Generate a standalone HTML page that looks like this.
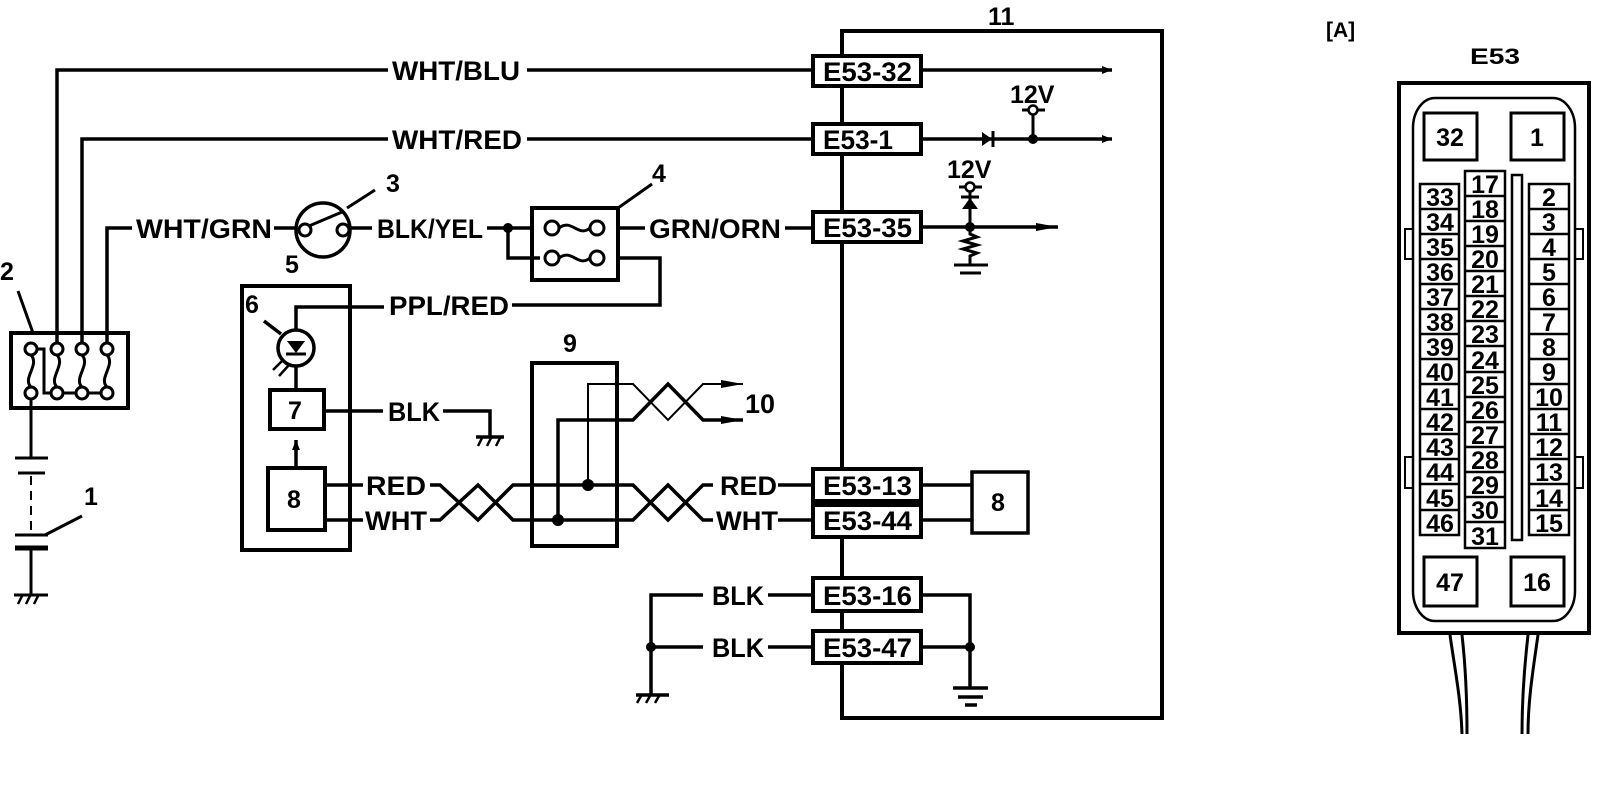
<!DOCTYPE html>
<html><head><meta charset="utf-8"><style>
html,body{margin:0;padding:0;background:#fff;}
svg{display:block;}
text{font-family:"Liberation Sans",Arial,sans-serif;fill:#000;font-weight:bold;}
</style></head><body>
<svg width="1600" height="792" viewBox="0 0 1600 792" xmlns="http://www.w3.org/2000/svg">
<defs>
<marker id="ah" markerWidth="10" markerHeight="8" refX="10" refY="4" orient="auto" markerUnits="userSpaceOnUse"><path d="M0,0 L10,4 L0,8 Z" fill="#000"/></marker>
<marker id="ah2" markerWidth="22" markerHeight="10" refX="22" refY="5" orient="auto" markerUnits="userSpaceOnUse"><path d="M0,1 L22,5 L0,9 Z" fill="#000"/></marker>
</defs>
<g stroke="#000" stroke-width="3.5" fill="none">
<path d="M842,31 H1162 V718 H842 Z" stroke-width="4"/>
<path d="M57,349 V70 H388"/><path d="M527,70 H813"/>
<path d="M923,70 H1112" marker-end="url(#ah)"/>
<path d="M82,349 V139 H388"/><path d="M527,139 H813"/>
<path d="M923,139 H1112" marker-end="url(#ah)"/>
<path d="M107,349 V228 H132"/><path d="M274,228 H296"/>
<circle cx="323" cy="230" r="27"/>
<path d="M350,228 H372"/>
<path d="M487,228 H532"/>
<path d="M508,228 V258 H540"/>
<rect x="532" y="208" width="86" height="72" stroke-width="4"/>
<path d="M618,228 H645"/><path d="M785,228 H813"/>
<path d="M923,227 H1058" marker-end="url(#ah2)"/>
<path d="M618,258 H660 V305 H512"/>
<path d="M384,307 H296 V330"/>
</g>
<g stroke="#000" stroke-width="3" fill="#fff">
<circle cx="305" cy="230" r="6"/><circle cx="343" cy="230" r="6"/>
<circle cx="552" cy="228" r="7"/><circle cx="597" cy="228" r="7"/>
<circle cx="552" cy="258" r="7"/><circle cx="597" cy="258" r="7"/>
</g>
<g stroke="#000" stroke-width="3" fill="none">
<path d="M309,226 L342,212"/>
<path d="M559,228 C572,218 578,238 590,228"/>
<path d="M559,258 C572,248 578,268 590,258"/>
<path d="M347,208 L375,190"/><path d="M618,208 L652,184"/>
</g>
<circle cx="508" cy="228" r="5" fill="#000"/>

<path d="M982,132 L992,139 L982,146 Z" fill="#000"/>
<path d="M993,131 V147" stroke="#000" stroke-width="3"/>
<path d="M1033,139 V113" stroke="#000" stroke-width="3"/>
<path d="M1022,110 H1045" stroke="#000" stroke-width="3"/>
<circle cx="1033" cy="110" r="4.5" fill="#fff" stroke="#000" stroke-width="2.5"/>
<circle cx="1033" cy="139" r="5" fill="#000"/>
<path d="M970,227 V190 M959,187 H982" stroke="#000" stroke-width="3"/>
<circle cx="970" cy="187" r="4.5" fill="#fff" stroke="#000" stroke-width="2.5"/>
<path d="M962,209 L970,198 L978,209 Z" fill="#000"/>
<path d="M961,197 H979" stroke="#000" stroke-width="3"/>
<circle cx="970" cy="227" r="5" fill="#000"/>
<path d="M970,227 V234 L977,237 L963,241 L977,245 L963,249 L977,253 L970,256 V265 M954,265 H988 M960,273 H981" stroke="#000" stroke-width="3" fill="none"/>

<g stroke="#000" stroke-width="3" fill="none">
<rect x="11" y="333" width="117" height="75" stroke-width="4"/>
<path d="M18,291 L33,333"/>
<path d="M37,349 H44 V393 H101"/>
<path d="M31,355 C40,365 22,378 31,387"/>
<path d="M57,355 C66,365 48,378 57,387"/>
<path d="M82,355 C91,365 73,378 82,387"/>
<path d="M107,355 C116,365 98,378 107,387"/>
<path d="M31,399 V458 M15,458 H48 M18,473 H45"/>
<path d="M31,476 V532" stroke-dasharray="9,6" stroke-width="2"/>
<path d="M15,535 H48"/><path d="M15,548 H48" stroke-width="5"/>
<path d="M31,550 V595 M14,595 H48"/>
<path d="M45,535 L82,516"/>
<path d="M18,604 L22,596 M26,604 L30,596 M34,604 L38,596" stroke-width="2.5"/>
</g>
<g fill="#fff" stroke="#000" stroke-width="3">
<circle cx="31" cy="349" r="6"/><circle cx="57" cy="349" r="6"/><circle cx="82" cy="349" r="6"/><circle cx="107" cy="349" r="6"/>
<circle cx="31" cy="393" r="6"/><circle cx="57" cy="393" r="6"/><circle cx="82" cy="393" r="6"/><circle cx="107" cy="393" r="6"/>
</g>

<g stroke="#000" stroke-width="3.5" fill="none">
<rect x="242" y="286" width="108" height="264" stroke-width="4"/>
<circle cx="296" cy="348" r="18"/>
<path d="M296,366 V390"/>
<rect x="270" y="390" width="54" height="39" stroke-width="4"/>
<rect x="268" y="468" width="57" height="62" stroke-width="4"/>
<path d="M296,468 V440" marker-end="url(#ah)"/>
<path d="M264,321 L281,334"/>
<path d="M283,360 L273,370 M289,365 L279,376" stroke-width="2.5"/>
<path d="M324,411 H383"/><path d="M443,411 H490 V437 M476,437 H504"/>
<path d="M478,446 L482,438 M487,446 L491,438 M496,446 L500,438" stroke-width="2.5"/>
<path d="M325,485 H363 M325,520 H363"/>
<path d="M430,485 H440 L478,520 L513,485 H633 L668,520 L703,485 H713"/>
<path d="M430,520 H440 L478,485 L513,520 H633 L668,485 L703,520 H713"/>
<path d="M778,485 H813 M778,520 H813"/>
<rect x="532" y="363" width="85" height="183" stroke-width="4"/>
<path d="M588,485 V384 H633 L668,420 L703,384 H743" marker-end="url(#ah2)" stroke-width="2"/>
<path d="M558,520 V420 H633 L668,384 L703,420 H743" marker-end="url(#ah2)"/>
<path d="M923,485 H972 M923,520 H972"/>
<rect x="972" y="472" width="56" height="61"/>
<path d="M651,695 V595 H703 M651,647 H703 M768,595 H813 M768,647 H813"/>
<path d="M923,595 H970 V688 M923,647 H970"/>
<path d="M953,688 H988 M958,697 H983 M965,705 H977"/>
<path d="M636,695 H669"/>
<path d="M637,703 L641,696 M646,703 L650,696 M655,703 L659,696" stroke-width="2.5"/>
</g>
<path d="M287,341 L305,341 L296,353 Z" fill="#000"/>
<path d="M286,354 H306" stroke="#000" stroke-width="3"/>
<circle cx="588" cy="485" r="6" fill="#000"/>
<circle cx="558" cy="520" r="6" fill="#000"/>
<circle cx="651" cy="647" r="5" fill="#000"/>
<circle cx="970" cy="647" r="5" fill="#000"/>

<g fill="#fff" stroke="#000" stroke-width="4">
<rect x="813" y="56" width="108" height="30"/>
<rect x="813" y="124" width="108" height="30"/>
<rect x="813" y="212" width="108" height="30"/>
<rect x="813" y="469" width="108" height="32"/>
<rect x="813" y="505" width="108" height="32"/>
<rect x="813" y="578" width="108" height="33"/>
<rect x="813" y="631" width="108" height="32"/>
</g>
<g font-size="27">
<text x="823" y="81" textLength="89" lengthAdjust="spacingAndGlyphs">E53-32</text>
<text x="823" y="149" textLength="70" lengthAdjust="spacingAndGlyphs">E53-1</text>
<text x="823" y="237" textLength="89" lengthAdjust="spacingAndGlyphs">E53-35</text>
<text x="823" y="495" textLength="89" lengthAdjust="spacingAndGlyphs">E53-13</text>
<text x="823" y="530" textLength="89" lengthAdjust="spacingAndGlyphs">E53-44</text>
<text x="823" y="605" textLength="89" lengthAdjust="spacingAndGlyphs">E53-16</text>
<text x="823" y="657" textLength="89" lengthAdjust="spacingAndGlyphs">E53-47</text>

<text x="392" y="80" textLength="128" lengthAdjust="spacingAndGlyphs">WHT/BLU</text>
<text x="392" y="149" textLength="130" lengthAdjust="spacingAndGlyphs">WHT/RED</text>
<text x="136" y="238" textLength="136" lengthAdjust="spacingAndGlyphs">WHT/GRN</text>
<text x="377" y="238" textLength="106" lengthAdjust="spacingAndGlyphs">BLK/YEL</text>
<text x="649" y="238" textLength="132" lengthAdjust="spacingAndGlyphs">GRN/ORN</text>
<text x="389" y="315" textLength="120" lengthAdjust="spacingAndGlyphs">PPL/RED</text>
<text x="388" y="421" textLength="52" lengthAdjust="spacingAndGlyphs">BLK</text>
<text x="366" y="495" textLength="60" lengthAdjust="spacingAndGlyphs">RED</text>
<text x="365" y="530" textLength="62" lengthAdjust="spacingAndGlyphs">WHT</text>
<text x="720" y="495" textLength="57" lengthAdjust="spacingAndGlyphs">RED</text>
<text x="716" y="530" textLength="62" lengthAdjust="spacingAndGlyphs">WHT</text>
<text x="712" y="605" textLength="52" lengthAdjust="spacingAndGlyphs">BLK</text>
<text x="712" y="657" textLength="52" lengthAdjust="spacingAndGlyphs">BLK</text>
<text x="745" y="413">10</text>
<text x="1010" y="103" font-size="25">12V</text>
<text x="947" y="178" font-size="25">12V</text>
<text x="988" y="25" font-size="25">11</text>
<text x="386" y="192" font-size="25">3</text>
<text x="652" y="182" font-size="25">4</text>
<text x="285" y="273" font-size="25">5</text>
<text x="245" y="313" font-size="25">6</text>
<text x="288" y="419" font-size="25">7</text>
<text x="287" y="508" font-size="25">8</text>
<text x="991" y="511" font-size="25">8</text>
<text x="563" y="352" font-size="25">9</text>
<text x="0" y="280" font-size="25">2</text>
<text x="84" y="505" font-size="25">1</text>
</g>

<text x="1326" y="37" font-size="21">[A]</text>
<text x="1470" y="64" font-size="22" textLength="50" lengthAdjust="spacingAndGlyphs">E53</text>
<g stroke="#000" fill="none" stroke-width="3">
<rect x="1399" y="83" width="190" height="550" stroke-width="4"/>
<rect x="1413" y="98" width="162" height="523" rx="22" ry="30" stroke-width="2.5"/>
<rect x="1405" y="229" width="8" height="30" stroke-width="2"/>
<rect x="1405" y="457" width="8" height="31" stroke-width="2"/>
<rect x="1575" y="229" width="8" height="30" stroke-width="2"/>
<rect x="1575" y="457" width="8" height="31" stroke-width="2"/>
<rect x="1424" y="113" width="53" height="47"/>
<rect x="1511" y="113" width="53" height="47"/>
<rect x="1424" y="557" width="53" height="49"/>
<rect x="1511" y="557" width="53" height="49"/>
<rect x="1512" y="175" width="10" height="365" stroke-width="2.5"/>
<path d="M1450,635 C1455,670 1461,700 1462,734 M1462,635 C1466,670 1467,700 1467,734"/>
<path d="M1538,635 C1533,670 1528,700 1528,734 M1528,635 C1524,670 1522,700 1522,734"/>
</g>
<g font-size="25" text-anchor="middle">
<text x="1450" y="146">32</text><text x="1537" y="146">1</text>
<text x="1450" y="591">47</text><text x="1537" y="591">16</text>
</g>
<g font-size="25" text-anchor="middle">
<g stroke="#000" stroke-width="2.5" fill="none">
<rect x="1420" y="184" width="39" height="351"/>
<rect x="1465" y="171" width="40" height="377"/>
<rect x="1529" y="184" width="40" height="351"/>
<path d="M1420,209 H1459 M1420,234 H1459 M1420,259 H1459 M1420,284 H1459 M1420,309 H1459 M1420,334 H1459 M1420,359 H1459 M1420,384 H1459 M1420,409 H1459 M1420,434 H1459 M1420,459 H1459 M1420,484 H1459 M1420,510 H1459"/>
<path d="M1529,209 H1569 M1529,234 H1569 M1529,259 H1569 M1529,284 H1569 M1529,309 H1569 M1529,334 H1569 M1529,359 H1569 M1529,384 H1569 M1529,409 H1569 M1529,434 H1569 M1529,459 H1569 M1529,484 H1569 M1529,510 H1569"/>
<path d="M1465,196 H1505 M1465,221 H1505 M1465,246 H1505 M1465,271 H1505 M1465,296 H1505 M1465,321 H1505 M1465,346 H1505 M1465,372 H1505 M1465,397 H1505 M1465,422 H1505 M1465,447 H1505 M1465,472 H1505 M1465,497 H1505 M1465,522 H1505"/>
</g>
<text x="1440" y="206">33</text><text x="1440" y="231">34</text><text x="1440" y="256">35</text><text x="1440" y="281">36</text><text x="1440" y="306">37</text><text x="1440" y="331">38</text><text x="1440" y="356">39</text><text x="1440" y="381">40</text><text x="1440" y="406">41</text><text x="1440" y="431">42</text><text x="1440" y="456">43</text><text x="1440" y="481">44</text><text x="1440" y="507">45</text><text x="1440" y="532">46</text>
<text x="1485" y="193">17</text><text x="1485" y="218">18</text><text x="1485" y="243">19</text><text x="1485" y="268">20</text><text x="1485" y="293">21</text><text x="1485" y="318">22</text><text x="1485" y="343">23</text><text x="1485" y="369">24</text><text x="1485" y="394">25</text><text x="1485" y="419">26</text><text x="1485" y="444">27</text><text x="1485" y="469">28</text><text x="1485" y="494">29</text><text x="1485" y="519">30</text><text x="1485" y="545">31</text>
<text x="1549" y="206">2</text><text x="1549" y="231">3</text><text x="1549" y="256">4</text><text x="1549" y="281">5</text><text x="1549" y="306">6</text><text x="1549" y="331">7</text><text x="1549" y="356">8</text><text x="1549" y="381">9</text><text x="1549" y="406">10</text><text x="1549" y="431">11</text><text x="1549" y="456">12</text><text x="1549" y="481">13</text><text x="1549" y="507">14</text><text x="1549" y="532">15</text>
</g>
</svg>
</body></html>
